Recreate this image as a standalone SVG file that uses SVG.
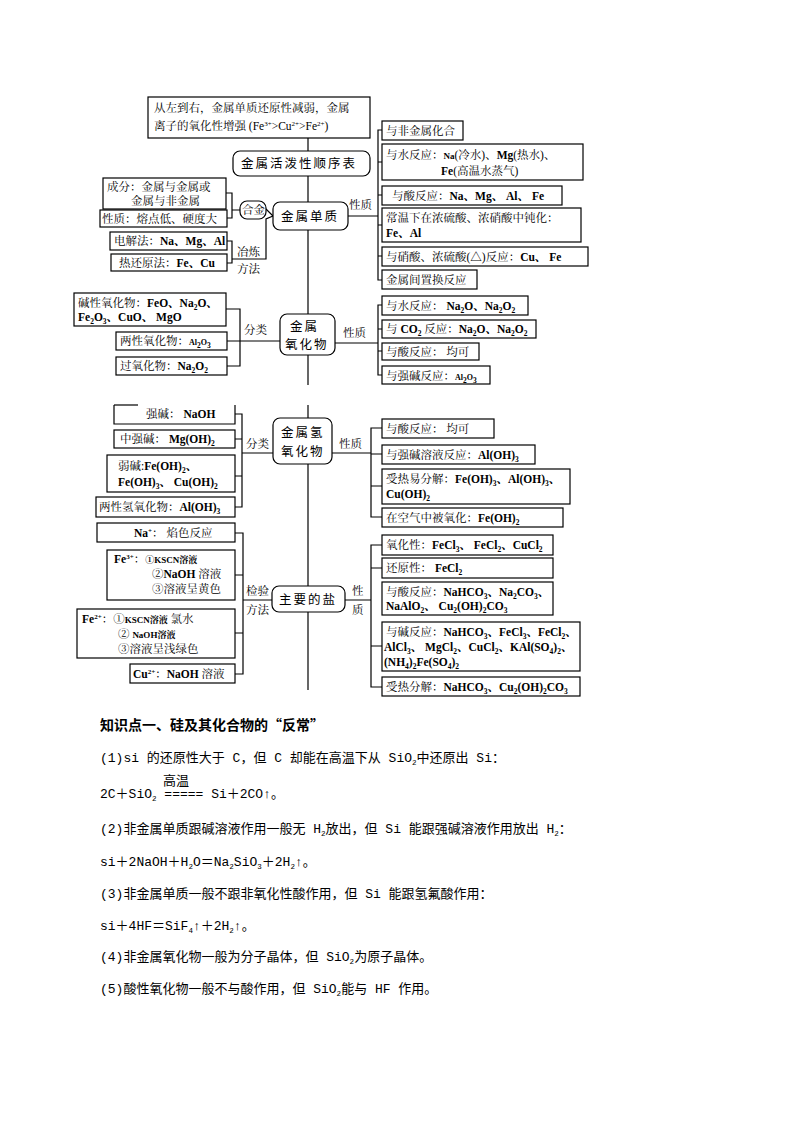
<svg xmlns="http://www.w3.org/2000/svg" width="794" height="1123" viewBox="0 0 794 1123">
<style>
rect{fill:#fff;stroke:#000;stroke-width:1.2}
.r{rx:7}
line,path{stroke:#000;stroke-width:1.2;fill:none}
text{font-family:"Liberation Serif","Noto Serif CJK SC","Noto Sans CJK SC",serif;font-size:11.5px;fill:#000}
.f{font-weight:bold}
.c{font-family:"Noto Sans CJK SC",sans-serif;font-size:12.5px;letter-spacing:2px}
.d{font-size:7.5px;baseline-shift:-3px}
.p{font-size:7px;baseline-shift:4px}
.t{font-family:"Liberation Mono","Noto Sans CJK SC",monospace;font-size:13px}
.h{font-family:"Noto Sans CJK SC",sans-serif;font-size:14px;font-weight:bold}
</style>
<g id="connectors">
<line x1="308" y1="138" x2="308" y2="385"/>
<line x1="308" y1="405" x2="308" y2="690"/>
<path d="M226 193H232V218H227M232 210H240M266 209L273 216"/>
<path d="M227 241H232V263H227M232 259H266V219L273 216"/>
<path d="M348 216H378M382 130H378V280H382M378 162H382M378 195H382M378 225H382M378 256H382"/>
<path d="M226 309H240V366H227M227 341H280"/>
<path d="M335 343H378M382 305H378V375H382M378 329H382M378 351H382"/>
<path d="M235 414H242V507H235M235 439H242M235 476H242M242 453H273"/>
<path d="M332 453H371M382 428H371V517H382M371 454H382M371 486H382"/>
<path d="M235 533H243V674H235M235 575H243M235 633H243M243 600H272"/>
<path d="M345 600H371M382 545H371V687H382M371 568H382M371 646H382"/>
</g>
<g id="top"><rect x="148" y="97" width="222" height="41"/>
<text x="154" y="112">从左到右，金属单质还原性减弱，金属</text>
<text x="154" y="130">离子的氧化性增强 (Fe<tspan class="p">3+</tspan>&gt;Cu<tspan class="p">2+</tspan>&gt;Fe<tspan class="p">2+</tspan>)</text></g>
<g id="order"><rect class="r" x="233" y="151" width="137" height="25"/><text class="c" x="241" y="168">金属活泼性顺序表</text></g>
<g id="metal"><rect class="r" x="273" y="202" width="75" height="28"/><text class="c" x="281" y="221">金属单质</text></g>
<g id="alloy"><rect class="r" x="240" y="201" width="26" height="18"/><text x="242" y="214">合金</text></g>
<g id="l1"><rect x="103" y="178" width="123" height="31"/><text x="107" y="191">成分：金属与金属或</text><text x="131" y="205">金属与非金属</text></g>
<g id="l2"><rect x="100" y="210" width="127" height="17"/><text x="102" y="223">性质：熔点低、硬度大</text></g>
<g id="l3"><rect x="110" y="232" width="117" height="18"/><text x="114" y="245">电解法：<tspan class="f">Na、Mg、Al</tspan></text></g>
<g id="l4"><rect x="111" y="254" width="116" height="17"/><text x="119" y="267">热还原法：<tspan class="f">Fe、Cu</tspan></text></g>
<text x="237" y="256">冶炼</text><text x="237" y="273">方法</text>
<text x="349" y="209">性质</text>
<g id="r1"><rect x="382" y="121" width="81" height="19"/><text x="386" y="135">与非金属化合</text></g>
<g id="r2"><rect x="382" y="144" width="201" height="36"/><text x="386" y="159">与水反应：<tspan class="f" font-size="9">Na</tspan>(冷水)、<tspan class="f">Mg</tspan>(热水)、</text><text x="441" y="175"><tspan class="f">Fe</tspan>(高温水蒸气)</text></g>
<g id="r3"><rect x="382" y="186" width="180" height="19"/><text x="392" y="200">与酸反应：<tspan class="f">Na、Mg、 Al、 Fe</tspan></text></g>
<g id="r4"><rect x="382" y="208" width="199" height="34"/><text x="386" y="222">常温下在浓硫酸、浓硝酸中钝化：</text><text class="f" x="386" y="237" font-size="8">Fe、Al</text></g>
<g id="r5"><rect x="382" y="247" width="206" height="19"/><text x="386" y="261">与硝酸、浓硫酸(△)反应：<tspan class="f">Cu、 Fe</tspan></text></g>
<g id="r6"><rect x="382" y="270" width="95" height="19"/><text x="386" y="284">金属间置换反应</text></g>

<g id="oxide"><rect class="r" x="280" y="314" width="55" height="41"/><text class="c" x="290" y="331">金属</text><text class="c" x="285" y="349">氧化物</text></g>
<g id="o1"><rect x="74" y="293" width="152" height="33"/><text x="78" y="307">碱性氧化物：<tspan class="f">FeO、Na<tspan class="d">2</tspan>O、</tspan></text><text class="f" x="78" y="321">Fe<tspan class="d">2</tspan>O<tspan class="d">3</tspan>、CuO、 MgO</text></g>
<g id="o2"><rect x="116" y="332" width="111" height="18"/><text x="120" y="345">两性氧化物：<tspan font-size="8" class="f">Al<tspan class="d">2</tspan>O<tspan class="d">3</tspan></tspan></text></g>
<g id="o3"><rect x="116" y="357" width="111" height="18"/><text x="120" y="370">过氧化物：<tspan class="f">Na<tspan class="d">2</tspan>O<tspan class="d">2</tspan></tspan></text></g>
<text x="244" y="334">分类</text><text x="343" y="337">性质</text>
<g id="o4"><rect x="382" y="296" width="146" height="19"/><text x="386" y="310">与水反应： <tspan class="f">Na<tspan class="d">2</tspan>O、Na<tspan class="d">2</tspan>O<tspan class="d">2</tspan></tspan></text></g>
<g id="o5"><rect x="382" y="320" width="154" height="18"/><text x="386" y="333">与 <tspan class="f">CO<tspan class="d">2</tspan></tspan> 反应：<tspan class="f">Na<tspan class="d">2</tspan>O、Na<tspan class="d">2</tspan>O<tspan class="d">2</tspan></tspan></text></g>
<g id="o6"><rect x="382" y="343" width="97" height="17"/><text x="386" y="356">与酸反应： 均可</text></g>
<g id="o7"><rect x="382" y="366" width="108" height="18"/><text x="386" y="380">与强碱反应：<tspan class="f" font-size="8">Al<tspan class="d">2</tspan>O<tspan class="d">3</tspan></tspan></text></g>

<g id="hydroxide"><rect class="r" x="273" y="418" width="59" height="46"/><text class="c" x="281" y="437">金属氢</text><text class="c" x="281" y="456">氧化物</text></g>
<g id="h1"><path d="M114 405V424H235V405"/><line x1="114" y1="405" x2="138" y2="405" stroke-width="2"/><text x="146" y="418">强碱： <tspan class="f">NaOH</tspan></text></g>
<g id="h2"><rect x="114" y="430" width="121" height="18"/><text x="120" y="443">中强碱： <tspan class="f">Mg(OH)<tspan class="d">2</tspan></tspan></text></g>
<g id="h3"><rect x="107" y="455" width="128" height="37"/><text x="118" y="470">弱碱:<tspan class="f">Fe(OH)<tspan class="d">2</tspan>、</tspan></text><text class="f" x="118" y="486">Fe(OH)<tspan class="d">3</tspan>、 Cu(OH)<tspan class="d">2</tspan></text></g>
<g id="h4"><rect x="96" y="497" width="139" height="20"/><text x="99" y="511">两性氢氧化物：<tspan class="f">Al(OH)<tspan class="d">3</tspan></tspan></text></g>
<text x="246" y="448">分类</text><text x="339" y="448">性质</text>
<g id="h5"><rect x="382" y="419" width="112" height="19"/><text x="386" y="433">与酸反应： 均可</text></g>
<g id="h6"><rect x="382" y="445" width="153" height="19"/><text x="386" y="459">与强碱溶液反应：<tspan class="f">Al(OH)<tspan class="d">3</tspan></tspan></text></g>
<g id="h7"><rect x="382" y="469" width="188" height="35"/><text x="386" y="483">受热易分解：<tspan class="f">Fe(OH)<tspan class="d">3</tspan>、Al(OH)<tspan class="d">3</tspan>、</tspan></text><text class="f" x="386" y="498">Cu(OH)<tspan class="d">2</tspan></text></g>
<g id="h8"><rect x="382" y="508" width="181" height="19"/><text x="386" y="522">在空气中被氧化：<tspan class="f">Fe(OH)<tspan class="d">2</tspan></tspan></text></g>

<g id="salt"><rect class="r" x="272" y="586" width="73" height="26"/><text class="c" x="279" y="604">主要的盐</text></g>
<g id="s1"><rect x="97" y="523" width="138" height="19"/><text x="134" y="537"><tspan class="f">Na<tspan class="p">+</tspan></tspan>： 焰色反应</text></g>
<g id="s2"><rect x="107" y="550" width="128" height="50"/><text x="114" y="563"><tspan class="f">Fe<tspan class="p">3+</tspan></tspan>：<tspan font-size="9" class="f">①KSCN溶液</tspan></text><text x="152" y="578">②<tspan class="f">NaOH</tspan> 溶液</text><text x="152" y="593">③溶液呈黄色</text></g>
<g id="s3"><rect x="77" y="609" width="158" height="49"/><text x="82" y="623"><tspan class="f">Fe<tspan class="p">2+</tspan></tspan>：①<tspan class="f" font-size="9">KSCN溶液</tspan>  氯水</text><text x="118" y="638">② <tspan class="f" font-size="9">NaOH溶液</tspan></text><text x="118" y="653">③溶液呈浅绿色</text></g>
<g id="s4"><rect x="130" y="664" width="105" height="19"/><text x="133" y="678"><tspan class="f">Cu<tspan class="p">2+</tspan></tspan>：<tspan class="f">NaOH</tspan> 溶液</text></g>
<text x="246" y="595">检验</text><text x="246" y="614">方法</text>
<text x="352" y="595">性</text><text x="352" y="614">质</text>
<g id="s5"><rect x="382" y="535" width="171" height="20"/><text x="386" y="549">氧化性：<tspan class="f">FeCl<tspan class="d">3</tspan>、 FeCl<tspan class="d">2</tspan>、CuCl<tspan class="d">2</tspan></tspan></text></g>
<g id="s6"><rect x="382" y="558" width="171" height="20"/><text x="386" y="572">还原性： <tspan class="f">FeCl<tspan class="d">2</tspan></tspan></text></g>
<g id="s7"><rect x="382" y="582" width="171" height="33"/><text x="386" y="596">与酸反应：<tspan class="f">NaHCO<tspan class="d">3</tspan>、Na<tspan class="d">2</tspan>CO<tspan class="d">3</tspan>、</tspan></text><text class="f" x="386" y="610">NaAlO<tspan class="d">2</tspan>、 Cu<tspan class="d">2</tspan>(OH)<tspan class="d">2</tspan>CO<tspan class="d">3</tspan></text></g>
<g id="s8"><rect x="382" y="622" width="198" height="49"/><text x="386" y="636">与碱反应：<tspan class="f">NaHCO<tspan class="d">3</tspan>、FeCl<tspan class="d">3</tspan>、FeCl<tspan class="d">2</tspan>、</tspan></text><text class="f" x="384" y="651">AlCl<tspan class="d">3</tspan>、 MgCl<tspan class="d">2</tspan>、CuCl<tspan class="d">2</tspan>、KAl(SO<tspan class="d">4</tspan>)<tspan class="d">2</tspan>、</text><text class="f" x="384" y="666">(NH<tspan class="d">4</tspan>)<tspan class="d">2</tspan>Fe(SO<tspan class="d">4</tspan>)<tspan class="d">2</tspan></text></g>
<g id="s9"><rect x="382" y="677" width="198" height="19"/><text x="386" y="691">受热分解：<tspan class="f">NaHCO<tspan class="d">3</tspan>、Cu<tspan class="d">2</tspan>(OH)<tspan class="d">2</tspan>CO<tspan class="d">3</tspan></tspan></text></g>

<g id="notes">
<text class="h" x="100" y="730">知识点一、硅及其化合物的“反常”</text>
<text class="t" x="100" y="762">(1)si 的还原性大于 C，但 C 却能在高温下从 SiO<tspan class="d">2</tspan>中还原出 Si：</text>
<text class="t" x="163" y="785" font-size="14">高温</text>
<text class="t" x="100" y="798">2C＋SiO<tspan class="d">2</tspan> ===== Si＋2CO↑。</text>
<text class="t" x="100" y="833">(2)非金属单质跟碱溶液作用一般无 H<tspan class="d">2</tspan>放出，但 Si 能跟强碱溶液作用放出 H<tspan class="d">2</tspan>：</text>
<text class="t" x="100" y="866">si＋2NaOH＋H<tspan class="d">2</tspan>O＝Na<tspan class="d">2</tspan>SiO<tspan class="d">3</tspan>＋2H<tspan class="d">2</tspan>↑。</text>
<text class="t" x="100" y="898">(3)非金属单质一般不跟非氧化性酸作用，但 Si 能跟氢氟酸作用：</text>
<text class="t" x="100" y="930">si＋4HF＝SiF<tspan class="d">4</tspan>↑＋2H<tspan class="d">2</tspan>↑。</text>
<text class="t" x="100" y="961">(4)非金属氧化物一般为分子晶体，但 SiO<tspan class="d">2</tspan>为原子晶体。</text>
<text class="t" x="100" y="993">(5)酸性氧化物一般不与酸作用，但 SiO<tspan class="d">2</tspan>能与 HF 作用。</text>
</g>
</svg>
